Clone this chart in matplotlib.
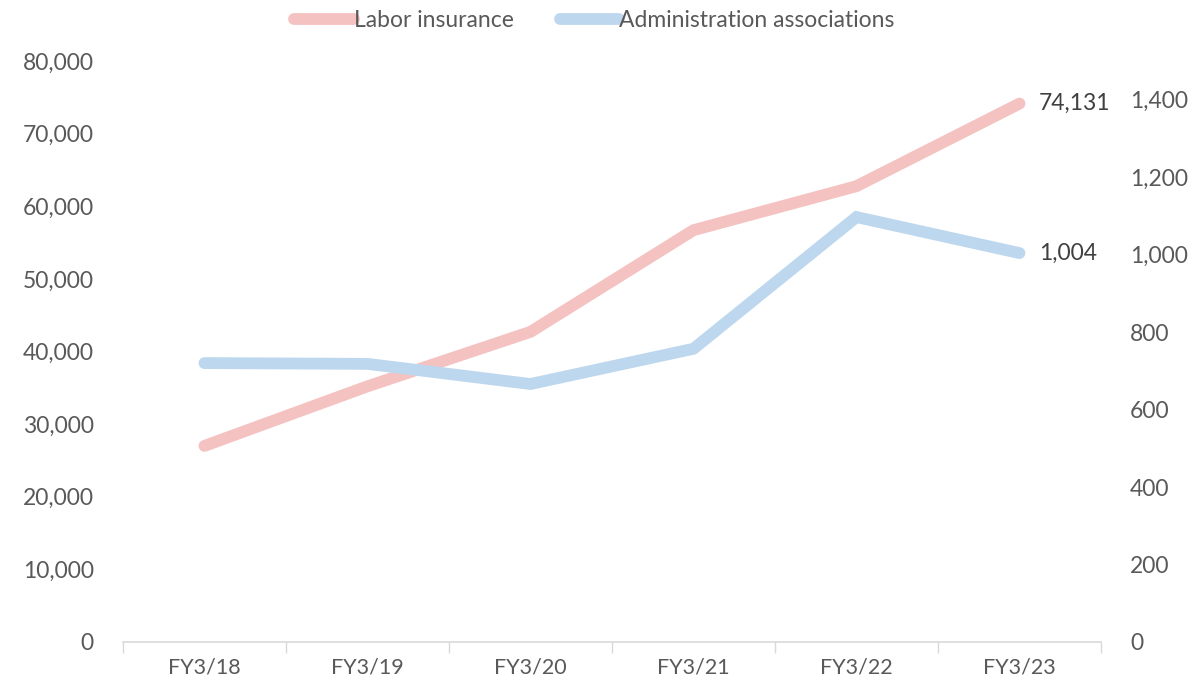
import matplotlib.pyplot as plt
from matplotlib.ticker import FuncFormatter, FixedLocator

years = ['FY3/18', 'FY3/19', 'FY3/20', 'FY3/21', 'FY3/22', 'FY3/23']
labor = [27000, 35200, 42700, 56700, 62760, 74131]
admin = [720, 718, 666, 757, 1097, 1004]

pink = '#F4C2C0'
blue = '#BDD7EE'
txt = '#595959'
grid = '#D9D9D9'
fs = 16.5

plt.rcParams['font.family'] = ['Lato', 'DejaVu Sans']

fig = plt.figure(figsize=(11.89, 6.85), dpi=100)
ax = fig.add_axes([0.1034, 0.0628, 0.8226, 0.8482])
ax2 = ax.twinx()

x = list(range(len(years)))
l1, = ax.plot(x, labor, color=pink, lw=8.5, solid_capstyle='round', solid_joinstyle='miter',
              label='Labor insurance')
l2, = ax2.plot(x, admin, color=blue, lw=8.5, solid_capstyle='round', solid_joinstyle='miter',
               label='Administration associations')

ax.set_xlim(-0.5, 5.5)
ax.set_ylim(0, 80000)
ax2.set_ylim(0, 1500)
ax.set_yticks(range(0, 80001, 10000))
ax2.set_yticks(range(0, 1401, 200))
fmt = FuncFormatter(lambda v, p: f'{int(v):,}')
ax.yaxis.set_major_formatter(fmt)
ax2.yaxis.set_major_formatter(fmt)

ax.set_xticks(x)
ax.set_xticklabels(years)
ax.xaxis.set_minor_locator(FixedLocator([i - 0.5 for i in range(len(years) + 1)]))
ax.tick_params(axis='x', which='major', length=0, pad=11, labelsize=fs - 1, labelcolor=txt)
ax.tick_params(axis='x', which='minor', length=8, width=1, color=grid, direction='out')
ax.tick_params(axis='y', length=0, pad=21, labelsize=fs, labelcolor=txt)
ax2.tick_params(axis='y', length=0, pad=21, labelsize=fs, labelcolor=txt)

for a in (ax, ax2):
    for s in ('top', 'left', 'right', 'bottom'):
        a.spines[s].set_visible(False)
ax.spines['bottom'].set_visible(True)
ax.spines['bottom'].set_color(grid)
ax.spines['bottom'].set_linewidth(1.2)

ax.annotate(f'{labor[-1]:,}', (x[-1], labor[-1]), xytext=(14, 0), textcoords='offset points',
            va='center', ha='left', fontsize=fs, color='#404040')
ax2.annotate(f'{admin[-1]:,}', (x[-1], admin[-1]), xytext=(14, 0), textcoords='offset points',
             va='center', ha='left', fontsize=fs, color='#404040')

fig.legend(handles=[l1, l2], loc='upper center', bbox_to_anchor=(0.5, 1.015), ncol=2,
           frameon=False, fontsize=fs, handlelength=2.6, handletextpad=0.0, columnspacing=2.0,
           labelcolor=txt)

fig.savefig('out.png', dpi=100)
